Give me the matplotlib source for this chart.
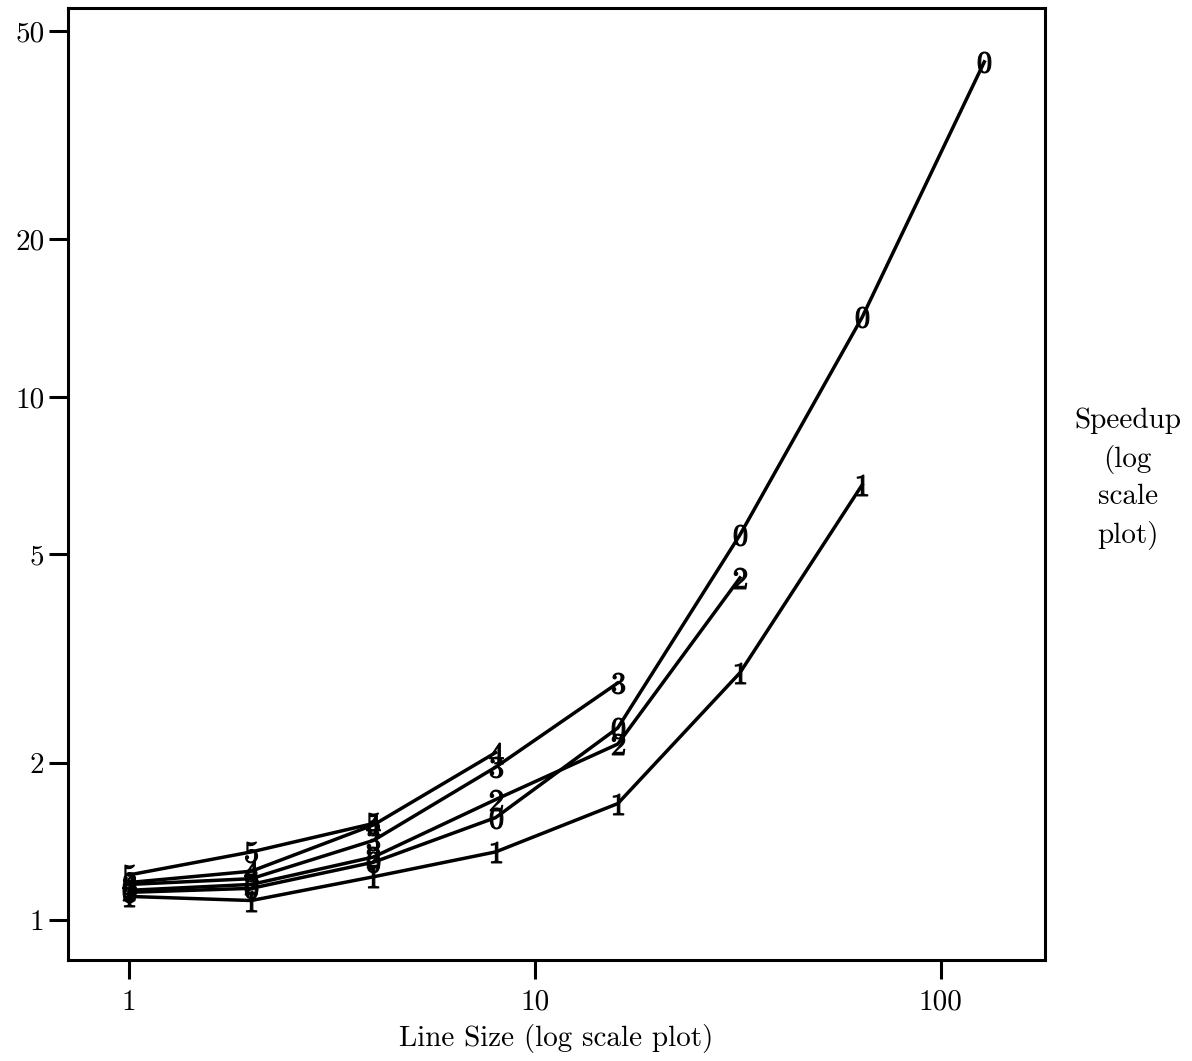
import matplotlib
matplotlib.use('Agg')
import matplotlib.pyplot as plt

plt.rcParams['font.family'] = ['cmr10', 'DejaVu Serif']
plt.rcParams['mathtext.fontset'] = 'cm'
plt.rcParams['axes.formatter.use_mathtext'] = True

# line sizes (x) and speedup per series (label = series number)
line_size = [1, 2, 4, 8, 16, 32, 64, 128]
series_names = ['0', '1', '2', '3', '4', '5']
speedup_0 = [1.13, 1.15, 1.29, 1.57, 2.33, 5.45, 14.2, 43.7]
speedup_1 = [1.11, 1.09, 1.21, 1.35, 1.67, 2.97, 6.79]
speedup_2 = [1.14, 1.17, 1.32, 1.70, 2.17, 4.51]
speedup_3 = [1.17, 1.20, 1.42, 1.96, 2.84]
speedup_4 = [1.18, 1.24, 1.52, 2.09]
speedup_5 = [1.22, 1.35, 1.53]
all_series = [speedup_0, speedup_1, speedup_2, speedup_3, speedup_4, speedup_5]

y_ticks = [1, 2, 5, 10, 20, 50]
x_ticks = [1, 10, 100]

fig = plt.figure(figsize=(11.92, 10.61), dpi=100)
ax = fig.add_axes([0.057, 0.0952, 0.82, 0.8973])

for name, vals in zip(series_names, all_series):
    ax.plot(line_size[:len(vals)], vals, color='black', lw=2.5,
            marker='$' + name + '$', markersize=15, markeredgewidth=0.8,
            markerfacecolor='black', markeredgecolor='black')

ax.set_xscale('log')
ax.set_yscale('log')
ax.set_xlim(0.707, 181)
ax.set_ylim(0.839, 55.4)

ax.set_xticks(x_ticks)
ax.set_xticklabels([str(t) for t in x_ticks])
ax.set_yticks(y_ticks)
ax.set_yticklabels([str(t) for t in y_ticks])
ax.minorticks_off()
ax.tick_params(direction='out', length=14, width=2.2, labelsize=21, pad=3)
ax.tick_params(axis='x', pad=7)

for sp in ax.spines.values():
    sp.set_linewidth(2.2)

ax.set_xlabel('Line Size (log scale plot)', fontsize=21, labelpad=6)
fig.text(0.946, 0.549, 'Speedup\n(log\nscale\nplot)', ha='center', va='center',
         multialignment='center', fontsize=21, linespacing=1.5)

fig.savefig('out.png', dpi=100)
